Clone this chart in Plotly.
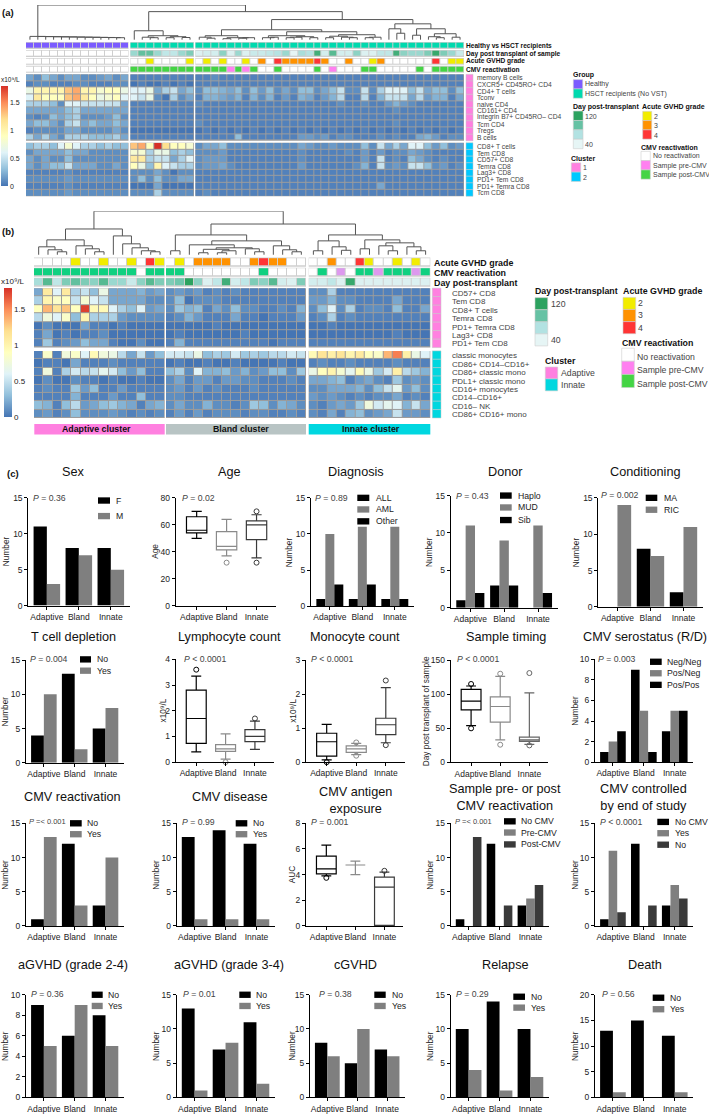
import plotly.graph_objects as go

FONT = "Liberation Sans"
W, H = 709, 1117
GROUPS = ["Adaptive", "Bland", "Innate"]

# ---------- panel (a) heat values, hundredths of 10^9/L ----------
A1_H = [
 [20,10,30,20,10,20,20,10,10,15,20,10,20],
 [5,10,10,5,5,5,10,10,5,5,5,10,10],
 [70,100,100,100,100,130,140,100,100,80,90,90,70],
 [60,110,90,90,90,130,140,110,90,70,80,90,60],
 [40,40,40,30,10,60,60,50,50,50,50,50,20],
 [20,20,20,20,20,30,40,20,20,20,20,20,20],
 [10,5,10,30,20,30,40,10,10,10,15,30,10],
 [20,30,30,20,10,40,50,20,30,20,20,30,20],
 [5,10,10,10,10,20,20,10,10,10,10,20,10],
 [40,20,40,20,10,40,40,40,30,30,30,40,20]]
A2_H = [
 [30,40,40,30,60,80,60,40,40,30,40,30,30],
 [10,20,20,20,20,30,20,20,10,10,10,10,10],
 [20,10,20,10,10,30,10,10,10,10,10,10,10],
 [20,10,20,30,30,50,20,20,20,10,10,20,10],
 [5,5,5,5,5,10,5,5,5,5,5,5,5],
 [10,10,10,10,10,15,10,10,10,10,10,10,10],
 [5,5,5,5,5,10,5,5,5,5,5,5,5],
 [10,10,10,10,10,15,10,10,10,10,10,10,10]]
A1_T = [
 [5,5,5,5,5,5,5,5],
 [0,5,0,0,5,0,5,0],
 [60,60,70,20,40,50,20,30],
 [60,50,70,10,0,40,10,20],
 [5,5,5,5,5,5,5,5],
 [5,5,5,5,5,5,5,5],
 [5,5,5,5,5,5,5,5],
 [5,5,5,5,5,5,5,5],
 [0,0,0,0,0,0,0,0],
 [5,5,5,5,5,5,5,5]]
A2_T = [
 [130,140,90,180,120,90,90,80],
 [80,80,40,70,70,30,40,30],
 [110,110,40,50,50,20,40,60],
 [90,70,30,100,60,50,40,40],
 [10,10,10,20,10,0,10,10],
 [10,30,10,30,10,10,20,20],
 [0,0,0,20,0,0,0,0],
 [10,10,10,40,10,10,10,10]]
A1_R = [
 [5,5,10,5,5,5,5,5,5,5,5,5,5,5,5,5,5,5,5,5,5,5,5,5,5,5,5,5,5,5,5,5,5,5],
 [5,5,5,5,5,5,5,5,5,5,5,5,5,5,5,5,5,5,5,5,5,5,5,5,5,5,5,5,5,5,5,5,5,5],
 [10,30,30,25,20,30,10,30,15,30,10,20,10,30,30,10,20,30,50,10,10,50,10,40,60,60,60,30,50,20,30,30,10,30],
 [5,25,25,20,15,25,5,25,10,25,5,15,5,25,20,5,15,25,45,5,5,45,5,25,50,50,50,20,45,15,25,25,5,20],
 [10,5,5,5,5,5,5,5,5,5,5,5,5,5,5,5,5,5,10,5,5,10,5,5,15,25,15,10,5,5,5,5,5,5],
 [5,5,5,5,5,5,5,5,5,5,5,5,5,5,5,5,5,5,5,5,5,5,5,5,5,10,5,5,5,5,5,5,5,5],
 [5,5,5,5,5,5,5,5,5,5,5,5,5,5,5,5,5,5,5,5,5,5,5,5,5,5,5,5,5,5,5,5,5,5],
 [10,5,5,5,5,5,5,5,5,5,5,5,5,5,5,5,5,5,5,5,5,5,5,5,5,10,5,5,5,5,5,5,5,5],
 [0,5,0,5,0,5,0,5,0,5,0,5,0,5,0,5,0,5,0,5,0,5,0,5,0,5,0,5,0,5,0,5,0,5],
 [5,5,5,5,5,30,5,5,5,5,5,5,5,15,15,10,15,5,10,10,5,5,5,10,5,10,5,5,20,25,15,5,10,10]]
A2_R = [
 [10,20,20,30,10,10,10,10,10,10,10,10,10,20,15,10,10,15,10,10,10,30,10,50,20,40,20,60,60,30,15,30,10,15],
 [10,10,10,15,5,5,5,5,5,5,5,5,5,10,5,5,5,5,5,10,5,15,5,15,5,10,10,20,15,10,5,5,5,5],
 [10,15,15,15,5,5,5,5,5,5,5,5,5,10,5,5,5,5,5,5,5,15,5,50,5,10,5,30,20,10,5,10,5,5],
 [10,15,15,20,10,5,5,5,5,5,5,5,5,15,5,5,5,5,5,5,10,25,5,50,10,15,10,50,50,30,10,15,5,10],
 [5,5,5,5,5,5,5,5,5,5,5,5,5,5,5,5,5,5,5,5,5,5,5,5,5,5,5,5,5,5,5,5,5,5],
 [5,5,5,5,5,5,5,5,5,5,5,5,5,5,5,5,5,5,5,5,5,5,5,5,5,5,5,5,5,5,5,5,5,5],
 [5,5,5,5,5,5,5,5,5,5,5,5,5,5,5,5,5,5,5,5,5,5,5,20,5,5,5,5,5,5,5,5,5,5],
 [5,10,5,5,5,5,5,5,5,5,5,5,5,5,5,5,5,5,5,5,5,5,5,5,5,5,5,5,5,5,5,5,5,5]]

A_NAMES1 = ["memory B cells","CXCR5+ CD45RO+ CD4","CD4+ T cells","Tconv","naive CD4","CD161+ CD4",
            "Integrin B7+ CD45RO– CD4","Tcm CD4","Tregs","B cells"]
A_NAMES2 = ["CD8+ T cells","Tem CD8","CD57+ CD8","Temra CD8","Lag3+ CD8","PD1+ Tem CD8","PD1+ Temra CD8","Tcm CD8"]

A_DAY_T = [75,95,95,75,60,60,75,85]
A_DAY_R = [45,50,50,80,45,75,45,55,55,60,65,75,40,70,65,110,50,100,50,50,80,45,45,60,60,110,80,75,75,85,115,85,75,55]
A_GVHD_T = [0,0,2,0,0,0,0,2]
A_GVHD_R = [0,2,0,2,0,0,2,0,3,0,4,3,3,3,3,4,3,0,0,3,0,0,2,3,0,0,0,0,0,0,4,0,2,2]
A_CMV_T = [2,2,2,2,2,2,2,2]
A_CMV_R = [2,2,2,2,1,2,1,2,0,0,2,0,0,0,0,2,0,1,0,0,0,2,2,0,0,0,0,0,2,0,2,2,2,2]

# ---------- panel (b) heat values ----------
B1_A = [
 [20,110,60,110,40,50,30,70,20,20,20,25,15,20],
 [40,100,85,90,50,80,60,50,20,20,20,20,10,10],
 [90,135,115,130,90,175,95,95,60,40,30,60,15,20],
 [45,75,60,85,30,100,40,40,40,15,10,10,10,10],
 [0,10,0,0,0,20,5,5,0,5,0,0,0,0],
 [5,20,0,5,0,5,5,10,0,0,0,0,0,0],
 [5,35,5,10,15,30,20,20,5,0,0,10,0,0]]
B2_A = [
 [5,85,5,75,85,60,95,75,70,45,20,50,15,30],
 [0,5,5,0,20,5,5,5,10,5,5,5,5,5],
 [5,75,5,40,55,45,50,65,55,30,15,30,5,5],
 [0,10,0,0,10,5,5,0,5,0,0,5,0,0],
 [5,10,5,5,35,15,30,5,5,15,5,5,5,5],
 [5,5,5,5,25,5,5,5,15,5,5,30,5,5],
 [30,25,5,30,45,15,20,30,35,25,20,5,20,25],
 [10,15,5,10,30,10,10,10,15,10,5,10,5,10]]
B1_B = [
 [10,15,10,15,5,10,5,10,5,5,5,5,5,5,5],
 [10,30,0,10,10,10,5,5,5,5,5,5,5,5,5],
 [10,35,25,30,5,20,10,30,10,10,5,5,10,5,25],
 [5,10,25,15,5,5,5,20,5,5,0,5,5,5,15],
 [0,0,0,0,0,5,0,0,0,0,0,0,0,0,0],
 [0,5,0,0,0,0,0,0,5,0,0,0,0,0,0],
 [5,25,5,5,5,5,5,5,5,5,5,0,5,5,5]]
B2_B = [
 [55,55,50,70,30,40,35,55,35,40,35,45,45,55,50],
 [0,5,0,0,5,0,0,5,0,0,0,0,5,0,0],
 [30,40,10,60,25,25,30,15,25,10,15,30,30,10,35],
 [10,20,5,15,15,5,15,15,10,10,5,5,5,10,5],
 [10,15,5,15,5,10,5,5,5,10,5,5,5,5,5],
 [10,10,5,5,5,5,5,5,5,5,5,5,5,5,5],
 [10,20,10,10,25,10,10,5,10,35,30,10,25,20,10],
 [5,15,5,15,5,10,10,10,5,10,10,5,5,10,5]]
B1_I = [
 [10,10,40,5,5,5,5,5,5,5,5,5,5],
 [15,15,25,10,10,5,5,5,5,20,5,5,5],
 [10,30,60,10,40,5,10,10,5,30,5,5,20],
 [5,10,40,5,10,5,5,5,5,5,5,5,5],
 [0,0,5,0,0,0,0,0,0,0,0,0,0],
 [0,0,0,0,0,0,0,0,0,5,0,0,0],
 [5,5,5,5,5,5,5,5,5,5,5,5,5]]
B2_I = [
 [95,115,105,115,100,110,90,85,135,155,105,70,60],
 [5,10,5,5,10,5,5,5,5,10,5,5,5],
 [70,90,100,80,65,95,70,35,55,105,45,35,25],
 [20,20,25,30,5,15,20,10,5,35,10,15,10],
 [10,10,20,20,20,25,10,30,50,65,15,30,10],
 [15,10,15,10,5,10,5,10,10,20,5,10,5],
 [10,5,15,20,15,35,75,55,65,60,25,50,20],
 [10,5,20,5,25,30,10,15,20,50,15,15,10]]
B_NAMES1 = ["CD57+ CD8","Tem CD8","CD8+ T cells","Temra CD8","PD1+ Temra CD8","Lag3+ CD8","PD1+ Tem CD8"]
B_NAMES2 = ["classic monocytes","CD86+ CD14–CD16+","CD86+ classic mono","PDL1+ classic mono","CD16+ monocytes",
            "CD14–CD16+","CD16– NK","CD86+ CD16+ mono"]
B_GVHD_A = [0,0,0,0,2,0,0,2,0,0,2,0,4,2]
B_GVHD_B = [0,2,0,3,3,3,3,0,0,3,4,3,3,0,0]
B_GVHD_I = [0,0,3,0,0,4,2,0,0,2,0,2,0]
B_CMV_A = [2,2,2,2,2,2,2,2,2,2,2,0,2,2]
B_CMV_B = [2,2,0,0,0,0,0,0,0,0,2,0,0,0,0]
B_CMV_I = [0,2,0,1,0,2,2,1,2,2,2,1,2]
B_DAY_A = [70,100,60,85,95,85,80,100,75,75,55,80,100,85]
B_DAY_B = [85,90,120,80,45,60,110,50,60,85,80,100,50,45,85]
B_DAY_I = [50,50,60,45,115,45,45,45,45,45,45,45,45]

# ---------- panel (c) counts ----------
SEX_F=[11,8,8]; SEX_M=[3,7,5]
DX_ALL=[1,1,1]; DX_AML=[10,11,11]; DX_OTHER=[3,3,1]
DON_HAPLO=[1,3,0]; DON_MUD=[11,9,11]; DON_SIB=[2,3,2]
COND_MA=[0,8,2]; COND_RIC=[14,7,11]
TCD_NO=[4,13,5]; TCD_YES=[10,2,8]
SERO_NN=[1,9,3]; SERO_PN=[2,5,5]; SERO_PP=[3,1,5]
REACT_NO=[1,12,3]; REACT_YES=[13,3,10]
DIS_NO=[13,14,12]; DIS_YES=[1,1,1]
SAMP_NO=[1,12,3]; SAMP_PRE=[0,0,4]; SAMP_POST=[13,3,6]
CTRL_NOCMV=[1,12,3]; CTRL_YES=[11,0,6]; CTRL_NO=[2,3,4]
G24_NO=[9,6,8]; G24_YES=[5,9,5]
G34_NO=[13,7,11]; G34_YES=[1,8,2]
CG_NO=[8,5,7]; CG_YES=[6,10,6]
REL_NO=[10,14,10]; REL_YES=[4,1,3]
DEATH_NO=[13,15,12]; DEATH_YES=[1,0,1]

# box summaries: low, q1, median, q3, high per group; outliers per group
AGE_BOX=[[50,54,56,66,70],[37,41.5,44,55,64],[35.5,49,60,63,67.5]]; AGE_OUT=[[],[32],[70,32]]
LYM_BOX=[[.4,.73,1.7,2.8,3.35],[.12,.42,.52,.68,1.1],[.5,.8,1.0,1.27,1.6]]; LYM_OUT=[[3.6],[0.0],[1.7]]
MON_BOX=[[.07,.18,.6,.85,1.11],[.22,.29,.39,.48,.55],[.57,.81,1.1,1.29,2.19]]; MON_OUT=[[0.0],[.58,.19],[2.4,.5]]
TIM_BOX=[[54,77,90,107,112],[33,59,82,96,126],[26.5,31,33,37,102]]; TIM_OUT=[[115,50],[130,26],[131,25]]
AUC_BOX=[[3.9,4.06,4.45,5.45,6.3],[4.0,4.75,4.75,4.75,5.05],[.05,.05,3.03,3.8,4.2]]; AUC_OUT=[[3.75],[],[4.3]]

# ---------- colours ----------
RAMP = [[0,"#4575B4"],[1/6,"#91BFDB"],[2/6,"#E0F3F8"],[3/6,"#FFFFBF"],[4/6,"#FEE090"],[5/6,"#FC8D59"],[1,"#D73027"]]
YEL,ORA,RED="#F2EC00","#FF9200","#FF3535"
DAY_STOPS=["#E6F5F5","#B2E2E2","#66C2A4","#2CA25F"]
PAL_A=["#FFFFFF","#7B5CFF","#00D9AE",YEL,ORA,RED,"#FF80F0","#44D444"]
PAL_B=["#FFFFFF","#7B5CFF","#00D9AE",YEL,ORA,RED,"#DD99EE","#10D080"]
def pal_scale(p):
    n=10.0; s=[]
    for i,c in enumerate(p):
        s += [[i/n,c],[(i+1)/n,c]]
    s += [[.8,DAY_STOPS[0]],[.867,DAY_STOPS[1]],[.933,DAY_STOPS[2]],[1,DAY_STOPS[3]]]
    return s
GV={0:.5,2:3.5,3:4.5,4:5.5}; CM={0:.5,1:6.5,2:7.5}
def dayz(v): return [8+2*(d-40)/80 for d in v]

fig=go.Figure()
layout={}; shapes=[]; annos=[]; ax_i=[0]
def X(p): return p/W
def Y(p): return 1-p/H
def new_axes(x0,x1,y0,y1):
    ax_i[0]+=1; n=ax_i[0]; s="" if n==1 else str(n)
    return n,s,dict(domain=[X(x0),X(x1)],anchor="y"+s),dict(domain=[Y(y1),Y(y0)],anchor="x"+s)
def rect(x0,y0,x1,y1,fill,line=None,lw=1,layer="below"):
    shapes.append(dict(type="rect",xref="paper",yref="paper",x0=X(x0),x1=X(x1),y0=Y(y0),y1=Y(y1),
                       fillcolor=fill,line=dict(color=line or fill,width=lw if line else 0),layer=layer))
def text(x,y,s,size=8,color="#222",anchor="left",bold=False,angle=0):
    if bold: s="<b>%s</b>"%s
    annos.append(dict(xref="paper",yref="paper",x=X(x),y=Y(y),text=s,showarrow=False,xanchor=anchor,yanchor="middle",
                      font=dict(family=FONT,size=size,color=color),textangle=angle,borderpad=0,borderwidth=0))

def hide(ax): ax.update(visible=False,showgrid=False,zeroline=False)
def heat(rows,x0,x1,y0,y1,colorbar=None):
    n,s,xa,ya=new_axes(x0,x1,y0,y1); hide(xa); hide(ya)
    nr,nc=len(rows),len(rows[0])
    xa["range"]=[-.5,nc-.5]; ya["range"]=[nr-.5,-.5]
    layout["xaxis"+s]=xa; layout["yaxis"+s]=ya
    rect(x0,y0,x1,y1,"#9c9c9c")
    t=go.Heatmap(z=[[v/100 for v in r] for r in rows],zmin=0,zmax=1.8,colorscale=RAMP,xgap=1,ygap=1,
                 xaxis="x"+s,yaxis="y"+s,showscale=bool(colorbar),hoverinfo="skip")
    if colorbar: t.colorbar=colorbar
    fig.add_trace(t)
def annot(rows,x0,x1,y0,pitch,pal):
    nr,nc=len(rows),len(rows[0])
    n,s,xa,ya=new_axes(x0,x1,y0,y0+nr*pitch); hide(xa); hide(ya)
    xa["range"]=[-.5,nc-.5]; ya["range"]=[nr-.5,-.5]
    layout["xaxis"+s]=xa; layout["yaxis"+s]=ya
    for i in range(nr):
        rect(x0,y0+i*pitch+.4,x1,y0+(i+1)*pitch-.6,"#cfcfcf")
    fig.add_trace(go.Heatmap(z=rows,zmin=0,zmax=10,colorscale=pal_scale(pal),xgap=1,ygap=3,showscale=False,
                             xaxis="x"+s,yaxis="y"+s,hoverinfo="skip"))
def dendro(tree,centres,x_lo,x_hi,y0,y1,top):
    n,s,xa,ya=new_axes(x_lo,x_hi,y0,y1); hide(xa); hide(ya)
    xa["range"]=[x_lo,x_hi]; ya["range"]=[0,top]
    layout["xaxis"+s]=xa; layout["yaxis"+s]=ya
    idx=[0]; xs=[]; ys=[]
    def walk(node):
        if node is None:
            p=centres[idx[0]]; idx[0]+=1; return p,1
        h,l,r=node
        lp,lh=walk(l); rp,rh=walk(r)
        xs.extend([lp,lp,rp,rp,None]); ys.extend([lh,h,h,rh,None])
        return (lp+rp)/2,h
    walk(tree)
    fig.add_trace(go.Scatter(x=xs,y=ys,mode="lines",line=dict(color="#555",width=1),xaxis="x"+s,yaxis="y"+s,
                             cliponaxis=False,hoverinfo="skip",showlegend=False))
L=None
def comb(n,h):
    node=(h,L,L)
    for i in range(n-2): node=(h+.12*(i+1),L,node)
    return node
def strip(x0,x1,y0,y1,n,col):
    for i in range(n):
        rect(x0,y0+(y1-y0)*i/n,x1,y0+(y1-y0)*(i+1)/n,col,line="#c4c4c4",lw=.5)

# ---------- panel (a) ----------
AX=[(26,128.5),(130.3,194),(195.3,464)]
ROW1=(70,137); ROW2=(139,193)
CB_A=dict(thickness=7,len=100,lenmode="pixels",x=X(1),xanchor="left",y=Y(82),yanchor="top",xpad=0,ypad=0,outlinewidth=0,
          tickvals=[0,.5,1,1.5],ticktext=["0","0.5","1","1.5"],ticks="",tickfont=dict(family=FONT,size=7,color="#222"))
for i,(d1,d2) in enumerate([(A1_H,A2_H),(A1_T,A2_T),(A1_R,A2_R)]):
    heat(d1,AX[i][0],AX[i][1],ROW1[0],ROW1[1],colorbar=CB_A if i==0 else None)
    heat(d2,AX[i][0],AX[i][1],ROW2[0],ROW2[1])
cats_h=[[1.5]*13,[.5]*13,[.5]*13,[.5]*13]
annot(cats_h,AX[0][0],AX[0][1],37,8,PAL_A)
annot([[2.5]*8,dayz(A_DAY_T),[GV[v] for v in A_GVHD_T],[CM[v] for v in A_CMV_T]],AX[1][0],AX[1][1],37,8,PAL_A)
annot([[2.5]*34,dayz(A_DAY_R),[GV[v] for v in A_GVHD_R],[CM[v] for v in A_CMV_R]],AX[2][0],AX[2][1],37,8,PAL_A)
def centres(ax,counts):
    out=[]
    for (a,b),n in zip(ax,counts):
        out+=[a+(b-a)*(i+.5)/n for i in range(n)]
    return out
T_H=comb(13,3)
T_T=(10,L,(5,(3.5,L,(3,L,L)),(4,(3,L,L),(3.2,L,L))))
T_R=(21.3,(11,(5,(3.5,L,(2.5,L,L)),(3,(2,L,L),(3,(2.5,L,L),L))),
            (9,(5,(3,L,(3.5,L,L)),(4,(3.5,(3,L,L),L),(3,L,L))),(6,(4.5,(3,L,L),(3.5,L,(3,L,L))),(3.5,(3,L,L),L)))),
          (17,(12,L,(7.5,L,L)),(12,(5.5,L,L),(7,(4,L,(3,L,L)),(3.5,L,L)))))
dendro((36,T_H,(29.3,T_T,T_R)),centres(AX,[13,8,34]),0,W,0,36,36)
strip(466,473,70,137,10,"#FF80E0"); strip(466,473,139,193,8,"#00C8FF")
text(2,8,"(a)",size=9.5,color="#111",bold=True)
for y,s in zip([41,49,57,65.3],["Healthy vs HSCT recipients","Day post transplant of sample","Acute GVHD grade","CMV reactivation"]):
    text(465.7,y,s,size=6.6,color="#111",bold=True)
for i,s in enumerate(A_NAMES1): text(476.7,73.6+i*6.64,s,size=6.7,color="#444")
for i,s in enumerate(A_NAMES2): text(476.7,143+i*6.67,s,size=6.7,color="#444")
text(1,75,"x10⁹/L",size=6.5)
def sw(x0,x1,ys,cols,line="#cfcfcf"):
    for a,b,c in zip(ys[:-1],ys[1:],cols): rect(x0,a,x1,b,c,line=line,lw=.6)
text(573.3,70.3,"Group",size=7,color="#111",bold=True)
sw(573.3,582.7,[75.3,84.7,94],[PAL_A[1],PAL_A[2]])
text(585.3,79.7,"Healthy",size=7,color="#444"); text(585.3,89.7,"HSCT recipients (No VST)",size=7,color="#444")
text(573.3,102.7,"Day post-transplant",size=7,color="#111",bold=True)
sw(573.3,583,[107,116.5,126,135.5,145],DAY_STOPS[::-1])
text(585.3,112.3,"120",size=7,color="#444"); text(585.3,140.3,"40",size=7,color="#444")
text(642.3,102.7,"Acute GVHD grade",size=7,color="#111",bold=True)
sw(642.7,651.7,[107.3,116.6,126,135.3],[YEL,ORA,RED])
for y,s in zip([112.3,121.7,131.3],"234"): text(654.3,y,s,size=7,color="#444")
text(641,143.3,"CMV reactivation",size=7,color="#111",bold=True)
sw(641,650.3,[147.7,157,166.4,175.7],[PAL_A[0],PAL_A[6],PAL_A[7]])
for y,s in zip([152,162.3,171.3],["No reactivation","Sample pre-CMV","Sample post-CMV"]): text(653,y,s,size=7,color="#444")
text(571,154.7,"Cluster",size=7,color="#111",bold=True)
sw(571.3,580.7,[159.3,168.6,178],["#FF80E0","#00C8FF"])
text(583,163.7,"1",size=7,color="#444"); text(583,173.7,"2",size=7,color="#444")

# ---------- panel (b) ----------
BX=[(34,164.7),(166,306),(308.7,430.3)]
BR1=(285.7,345.7); BR2=(349,416.7)
CB_B=dict(thickness=8,len=128.6,lenmode="pixels",x=X(3.7),xanchor="left",y=Y(285.7),yanchor="top",xpad=0,ypad=0,outlinewidth=0,
          tickvals=[0,.5,1,1.5],ticktext=["0","0.5","1","1.5"],ticks="",tickfont=dict(family=FONT,size=8,color="#222"))
for i,(d1,d2) in enumerate([(B1_A,B2_A),(B1_B,B2_B),(B1_I,B2_I)]):
    heat(d1,BX[i][0],BX[i][1],BR1[0],BR1[1],colorbar=CB_B if i==0 else None)
    heat(d2,BX[i][0],BX[i][1],BR2[0],BR2[1])
for i,(g,c,d) in enumerate([(B_GVHD_A,B_CMV_A,B_DAY_A),(B_GVHD_B,B_CMV_B,B_DAY_B),(B_GVHD_I,B_CMV_I,B_DAY_I)]):
    annot([[GV[v] for v in g],[CM[v] for v in c],dayz(d)],BX[i][0],BX[i][1],254.5,10.1,PAL_B)
TB_A=(27,(16,(9,L,(6,L,(4,L,L))),(10,L,(7,L,(4,L,L)))),(20,L,(12,L,(8,L,(5,L,(4,L,L))))))
TB_M=(8,(6.5,(3,L,L),(5,(3,L,L),L)),(7,L,(4,L,L)))
TB_B=(21,(5,L,L),(15,(11,L,TB_M),(10,L,(6,L,(4,L,L)))))
TB_I=(21,(15,(5,L,L),(9,L,(5.5,L,L))),(16,(7,L,L),(13,(10,L,(5,L,L)),(9,L,(5,L,L)))))
dendro((45,TB_A,(32,TB_B,TB_I)),centres(BX,[14,15,13]),0,W,208,253,45)
strip(432.3,441,285.7,345.7,7,"#FF80E0"); strip(432.3,441,349,416.7,8,"#00D7DF")
rect(34.3,422.7,164.7,433.3,"#FF80E0"); rect(166,422.7,306,433.3,"#B8C4C4"); rect(308.7,422.7,430.3,433.3,"#00D7E0")
text(96.5,428,"Adaptive cluster",size=8.8,color="#111",anchor="center",bold=True)
text(241,428,"Bland cluster",size=8.8,color="#111",anchor="center",bold=True)
text(371,428,"Innate cluster",size=8.8,color="#111",anchor="center",bold=True)
text(2,228.5,"(b)",size=9.5,color="#111",bold=True)
for y,s in zip([260,270,280.7],["Acute GVHD grade","CMV reactivation","Day post-transplant"]):
    text(434.3,y,s,size=8.9,color="#111",bold=True)
for i,s in enumerate(B_NAMES1): text(452,290.7+i*8.56,s,size=8,color="#444")
for i,s in enumerate(B_NAMES2): text(452,354+i*8.47,s,size=8,color="#444")
text(1,279,"x10⁹/L",size=8)
text(535,289,"Day post-transplant",size=8.8,color="#111",bold=True)
sw(535,547.7,[295.3,307.5,319.7,331.9,344],DAY_STOPS[::-1])
text(550.7,301.7,"120",size=8.7,color="#444"); text(550.7,338.3,"40",size=8.7,color="#444")
text(623.3,289,"Acute GVHD grade",size=8.9,color="#111",bold=True)
sw(623,635.7,[295,307.2,319.5,331.7],[YEL,ORA,RED])
for y,s in zip([301,313.3,325.7],"234"): text(638.3,y,s,size=8.7,color="#444")
text(621.7,340.7,"CMV reactivation",size=8.8,color="#111",bold=True)
sw(621.7,634.3,[346.3,359.5,372.8,386],[PAL_B[0],"#FF80F0","#44D444"])
for y,s in zip([354.7,368,382.7],["No reactivation","Sample pre-CMV","Sample post-CMV"]): text(637.3,y,s,size=8.7,color="#444")
text(545.3,359.3,"Cluster",size=8.8,color="#111",bold=True)
sw(545.3,557.7,[365.3,377.3,389.3],["#FF80E0","#00D7DF"])
text(560.7,371.7,"Adaptive",size=8.7,color="#444"); text(560.7,383.7,"Innate",size=8.7,color="#444")
text(7,473,"(c)",size=9.5,color="#111",bold=True)

# ---------- panel (c) ----------
BLK,GRY,DRK="#000000","#7f7f7f","#3a3a3a"
TICK=dict(family=FONT,size=8.5,color="#222")
def plot_axes(x0,x1,y0,y1,ymax,dtick,rng):
    n,s,xa,ya=new_axes(x0,x1,y0,y1)
    xa.update(type="category",categoryorder="array",categoryarray=GROUPS,range=rng,showline=True,linecolor="#000",linewidth=1,
              ticks="outside",ticklen=3,tickcolor="#000",showgrid=False,zeroline=False,tickfont=TICK,tickangle=0)
    ya.update(range=[0,ymax],tick0=0,dtick=dtick,showline=True,linecolor="#000",linewidth=1,ticks="outside",ticklen=3,
              tickcolor="#000",showgrid=False,zeroline=False,tickfont=TICK)
    layout["xaxis"+s]=xa; layout["yaxis"+s]=ya
    return s
def title(cx,cy,lines):
    text(cx,cy,"<br>".join(lines),size=12.7,color="#111",anchor="center")
def ptext(px,py,pval):
    text(px,py,"<i>P</i> "+pval,size=7.5 if "&lt;" in pval and "=" in pval else 8.7,color="#444")
def bars(x0,x1,y0,y1,ymax,dtick,ttl,tx,ty,ylabel,ylx,pval,px,py,series,leg=None):
    s=plot_axes(x0,x1,y0,y1,ymax,dtick,[-.58,2.6])
    for name,vals,col in series:
        fig.add_trace(go.Bar(x=GROUPS,y=vals,marker=dict(color=col,line=dict(width=0)),name=name,xaxis="x"+s,yaxis="y"+s,
                             showlegend=False,hoverinfo="skip"))
    title(tx,ty,ttl)
    text(ylx,(y0+y1)/2,ylabel,size=8.3,anchor="center",angle=-90)
    ptext(px,py,pval)
    if leg:
        sx0,sx1,tx2,ys=leg
        for (name,vals,col),yy in zip(series,ys):
            rect(sx0,yy-3.2,sx1,yy+3.2,col)
            text(tx2,yy,name,size=8.7,color="#222")
def boxes(x0,x1,y0,y1,ymax,dtick,ttl,tx,ty,ylabel,ylx,pval,px,py,data,out,cols):
    s=plot_axes(x0,x1,y0,y1,ymax,dtick,[-.7,2.65])
    for g,b,o,c in zip(GROUPS,data,out,cols):
        fig.add_trace(go.Box(x=[g],lowerfence=[b[0]],q1=[b[1]],median=[b[2]],q3=[b[3]],upperfence=[b[4]],width=.68,whiskerwidth=.5,
                             fillcolor="rgba(255,255,255,0)",line=dict(color=c,width=1.2),boxpoints=False,xaxis="x"+s,yaxis="y"+s,
                             showlegend=False,hoverinfo="skip"))
        if o:
            fig.add_trace(go.Scatter(x=[g]*len(o),y=o,mode="markers",marker=dict(symbol="circle-open",size=5,color=c,line=dict(color=c,width=1)),
                                     xaxis="x"+s,yaxis="y"+s,cliponaxis=False,showlegend=False,hoverinfo="skip"))
    title(tx,ty,ttl)
    text(ylx,(y0+y1)/2,ylabel,size=8.3,anchor="center",angle=-90)
    ptext(px,py,pval)

R1=471; R2=637.7; R3=799.3; R4=968.7
bars(28.3,130,497.3,606,15,5,["Sex"],73,R1,"Number",5.5,"= 0.36",33,497.3,
     [("F",SEX_F,BLK),("M",SEX_M,GRY)],(98,110,116,[500,515.7]))
boxes(175.7,276,497.3,606.3,80,20,["Age"],229.3,R1,"Age",155,"= 0.02",181.7,497.3,AGE_BOX,AGE_OUT,[BLK,"#8a8a8a",DRK])
bars(311,414.3,497.3,606.7,15,5,["Diagnosis"],355.7,R1,"Number",289.3,"= 0.89",315,497.3,
     [("ALL",DX_ALL,BLK),("AML",DX_AML,GRY),("Other",DX_OTHER,BLK)],(357.3,369.3,376,[497.3,509,521]))
bars(450.7,558.3,495,608.3,15,5,["Donor"],505.7,R1,"Number",428.3,"= 0.43",455.7,495,
     [("Haplo",DON_HAPLO,BLK),("MUD",DON_MUD,GRY),("Sib",DON_SIB,BLK)],(500,511.7,518.3,[495,507,519.7]))
bars(598.3,703.3,497.3,607.3,15,5,["Conditioning"],645,R1,"Number",576,"= 0.002",600.7,494.7,
     [("MA",COND_MA,BLK),("RIC",COND_RIC,GRY)],(645.7,657.3,664,[497.3,509.3]))
bars(26,124,661,764.7,15,5,["T cell depletion"],73,R2,"Number",5,"= 0.004",30,660,
     [("No",TCD_NO,BLK),("Yes",TCD_YES,GRY)],(80,91,96.7,[660.3,671.7]))
boxes(175.7,274,660.3,764,4,1,["Lymphocyte count"],229.3,R2,"x10⁹/L",162.7,"< 0.0001",184.3,660,LYM_BOX,LYM_OUT,[BLK,"#8a8a8a",DRK])
boxes(306,405,661,764,3,1,["Monocyte count"],355.3,R2,"x10⁹/L",292.7,"< 0.0001",311,660,MON_BOX,MON_OUT,[BLK,"#8a8a8a",DRK])
boxes(450.7,548.3,661,764.3,150,50,["Sample timing"],505.7,R2,"Day post transplant of sample",426,"< 0.0001",456.7,660,TIM_BOX,TIM_OUT,[BLK,"#8a8a8a","#666666"])
bars(595,693.3,660.3,764,10,2,["CMV serostatus (R/D)"],645,R2,"Number",575,"= 0.003",598.3,660,
     [("Neg/Neg",SERO_NN,BLK),("Pos/Neg",SERO_PN,GRY),("Pos/Pos",SERO_PP,BLK)],(650,661.7,666.7,[662.7,674.3,686]))
bars(26,124,825.7,929.3,15,5,["CMV reactivation"],72.7,R3,"Number",5,"=&lt; 0.001",29,824.3,
     [("No",REACT_NO,BLK),("Yes",REACT_YES,GRY)],(70,81.7,87.3,[825.7,836.7]))
bars(176.7,275,825.7,929.3,15,5,["CMV disease"],229.3,R3,"Number",156,"= 0.99",181.7,824.3,
     [("No",DIS_NO,BLK),("Yes",DIS_YES,GRY)],(235.7,247.3,253.3,[825.7,836.7]))
boxes(306,403.3,825.7,929.3,8,2,["CMV antigen","exposure"],355,803,"AUC",291.7,"= 0.001",311,824.3,AUC_BOX,AUC_OUT,[BLK,"#8a8a8a",DRK])
bars(450.7,549,825.7,929.3,15,5,["Sample pre- or post","CMV reactivation"],504.7,800,"Number",430,"=&lt; 0.001",455,824.3,
     [("No CMV",SAMP_NO,BLK),("Pre-CMV",SAMP_PRE,GRY),("Post-CMV",SAMP_POST,DRK)],(504,515.7,521.3,[823.7,835,847]))
bars(595,693.3,825.7,929.3,15,5,["CMV controlled","by end of study"],643.7,800,"Number",575,"< 0.0001",600,824.3,
     [("No CMV",CTRL_NOCMV,BLK),("Yes",CTRL_YES,GRY),("No",CTRL_NO,DRK)],(657.3,669,675,[824.3,835.7,847.3]))
bars(26,124,998.7,1102.3,10,2,["aGVHD (grade 2-4)"],72.7,R4,"Number",5,"= 0.36",30.7,998,
     [("No",G24_NO,BLK),("Yes",G24_YES,GRY)],(91.7,102.7,108.3,[998.7,1010]))
bars(176.7,275,998.7,1102.3,15,5,["aGVHD (grade 3-4)"],229.3,R4,"Number",156,"= 0.01",182.7,998,
     [("No",G34_NO,BLK),("Yes",G34_YES,GRY)],(239.3,250.7,256,[998.7,1010]))
bars(310,405,998.7,1102.3,15,5,["cGVHD"],355,R4,"Number",291.7,"= 0.38",319,998,
     [("No",CG_NO,BLK),("Yes",CG_YES,GRY)],(374.3,385.7,391.7,[998.7,1010]))
bars(450.7,549,998.7,1102.3,15,5,["Relapse"],505.7,R4,"Number",430,"= 0.29",455.7,998,
     [("No",REL_NO,BLK),("Yes",REL_YES,GRY)],(513.3,525,530.7,[1000.7,1011.7]))
bars(595,693.3,998.7,1102.3,20,5,["Death"],645,R4,"Number",575,"= 0.56",602.3,998,
     [("No",DEATH_NO,BLK),("Yes",DEATH_YES,GRY)],(652.7,664.3,670,[1001.7,1013.3]))

fig.update_layout(width=W,height=H,margin=dict(l=0,r=0,t=0,b=0),autosize=False,paper_bgcolor="white",
                  plot_bgcolor="rgba(0,0,0,0)",showlegend=False,barmode="group",bargap=.17,bargroupgap=0,boxmode="overlay",
                  shapes=shapes,annotations=annos,font=dict(family=FONT),**layout)
fig.write_html("out.html",config=dict(displayModeBar=False),post_script="document.body.style.margin='0';")
